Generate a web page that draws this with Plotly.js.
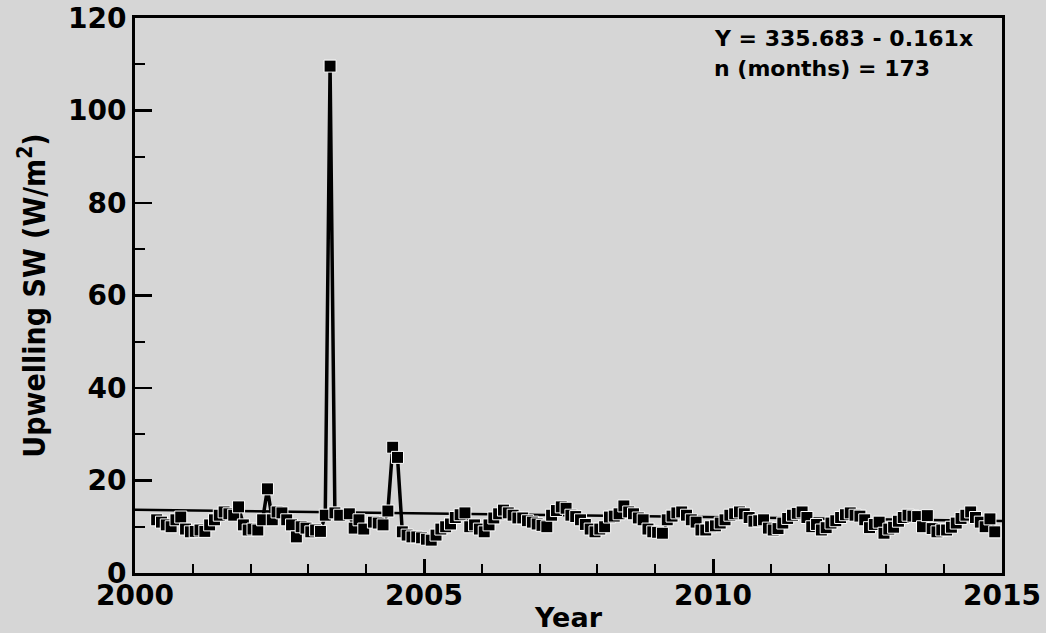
<!DOCTYPE html>
<html>
<head>
<meta charset="utf-8">
<script src="https://cdn.plot.ly/plotly-3.0.1.min.js"></script>
<style>
  html, body { margin: 0; padding: 0; background: #d6d6d6; }
  #chart { width: 1046px; height: 633px; }
</style>
</head>
<body>
<div id="chart"></div>
<script>
// Monthly mean upwelling shortwave flux (W/m^2), one array per year, Jan..Dec.
// null marks a month with no observation.
const sw2000 = [null, null, null, null, 11.5, 11.0, 10.4, 10.0, 11.5, 12.1, 9.5, 8.9];
const sw2001 = [9.0, 9.3, 9.0, 10.4, 11.5, 12.5, 13.2, 12.8, 12.5, 14.3, 10.4, 9.3];
const sw2002 = [9.5, 9.3, 11.5, 18.2, 11.5, 13.2, 13.0, 11.5, 10.4, 7.8, 10.0, 9.7];
const sw2003 = [8.9, 9.3, 9.0, 12.5, 109.6, 13.0, 12.5, null, 12.8, 9.7, 11.5, 9.5];
const sw2004 = [null, 11.0, 10.8, 10.4, 13.4, 27.2, 25.0, 8.9, 8.2, 7.8, 7.8, 7.6];
const sw2005 = [7.3, 7.1, 8.2, 9.5, 10.0, 10.6, 12.0, 12.6, 13.0, 10.0, 10.4, 9.5];
const sw2006 = [8.9, 10.4, 11.9, 12.8, 13.6, 13.0, 12.5, 11.9, 11.9, 11.3, 11.0, 10.6];
const sw2007 = [10.3, 10.0, 12.5, 13.5, 14.3, 14.0, 12.5, 12.2, 11.5, 10.5, 9.5, 8.9];
const sw2008 = [9.5, 10.0, 12.1, 12.3, 12.8, 14.5, 13.2, 12.8, 11.9, 11.5, 9.5, 8.9];
const sw2009 = [8.8, 8.6, 11.5, 12.3, 13.0, 13.2, 12.5, 11.5, 11.0, 9.3, 9.3, 10.0];
const sw2010 = [10.2, 10.8, 11.5, 12.5, 12.8, 13.2, 12.8, 12.0, 11.2, 11.3, 11.5, 9.7];
const sw2011 = [9.3, 9.6, 10.8, 11.8, 12.5, 12.9, 13.2, 12.0, 10.0, 10.5, 9.3, 9.8];
const sw2012 = [10.8, 11.3, 12.0, 12.6, 13.0, 12.5, 12.3, 11.5, 9.8, 10.5, 11.0, 8.6];
const sw2013 = [9.5, 9.9, 11.2, 12.0, 12.5, 12.3, 12.2, 10.0, 12.4, 9.6, 8.9, 9.3];
const sw2014 = [9.3, 9.9, 10.8, 11.8, 12.5, 13.2, 12.0, 11.0, 10.0, 11.7, 8.9, null];

const firstYear = 2000;
const yearSeries = [sw2000, sw2001, sw2002, sw2003, sw2004, sw2005, sw2006, sw2007,
                    sw2008, sw2009, sw2010, sw2011, sw2012, sw2013, sw2014];

// Least-squares fit printed on the chart: Y = a + b * year
const fitIntercept = 335.683;
const fitSlope = -0.161;
const fitSpan = [2000, 2015];

const yTickVals = [0, 20, 40, 60, 80, 100, 120];
const xTickVals = [2000, 2005, 2010, 2015];

// Flatten to mid-month decimal years, skipping missing months
const xs = [], ys = [];
yearSeries.forEach((arr, i) => {
  arr.forEach((v, m) => {
    if (v !== null) {
      xs.push(firstYear + i + (m + 0.5) / 12);
      ys.push(v);
    }
  });
});

const fitY = fitSpan.map(x => fitIntercept + fitSlope * x);

const traces = [
  {
    x: fitSpan, y: fitY, type: 'scatter', mode: 'lines',
    line: { color: '#000', width: 2.5 }, hoverinfo: 'skip'
  },
  {
    x: xs, y: ys, type: 'scatter', mode: 'lines+markers',
    line: { color: '#000', width: 3.5 },
    marker: { symbol: 'square', size: 12, color: '#000', line: { color: '#ffffff', width: 1 } }
  }
];

const tickFont = { family: 'DejaVu Sans', size: 28, color: '#000', weight: 'bold' };

const layout = {
  width: 1046, height: 633,
  paper_bgcolor: '#d6d6d6', plot_bgcolor: '#d6d6d6',
  margin: { l: 135, r: 44, t: 18, b: 60 },
  showlegend: false,
  xaxis: {
    range: [2000, 2015], tickvals: xTickVals, ticktext: xTickVals.map(String),
    showgrid: false, zeroline: false,
    showline: true, linecolor: '#000', linewidth: 3, mirror: true,
    ticks: 'inside', ticklen: 14, tickwidth: 3, tickcolor: '#000',
    ticklabelstandoff: -5,
    minor: { dtick: 1, ticks: 'inside', ticklen: 9, tickwidth: 2, tickcolor: '#000', showgrid: false },
    tickfont: tickFont,
    title: { text: '<b>Year</b>', font: { family: 'DejaVu Sans', size: 27, color: '#000' }, standoff: 0 }
  },
  yaxis: {
    range: [0, 120], tickvals: yTickVals, ticktext: yTickVals.map(String),
    showgrid: false, zeroline: false,
    showline: true, linecolor: '#000', linewidth: 3, mirror: true,
    ticks: 'inside', ticklen: 17, tickwidth: 2.5, tickcolor: '#000',
    minor: { dtick: 10, ticks: 'inside', ticklen: 10, tickwidth: 2, tickcolor: '#000', showgrid: false },
    tickfont: tickFont,
    title: { text: '<b>Upwelling SW (W/m<sup>2</sup>)</b>', font: { family: 'DejaVu Sans Condensed, Liberation Sans', size: 30, color: '#000' }, standoff: 14 }
  },
  annotations: [
    {
      xref: 'paper', yref: 'paper', x: 0.666, y: 0.99, xanchor: 'left', yanchor: 'top',
      align: 'left', showarrow: false,
      text: '<b>Y = 335.683 - 0.161x</b>',
      font: { family: 'DejaVu Sans', size: 22, color: '#000' }
    },
    {
      xref: 'paper', yref: 'paper', x: 0.666, y: 0.936, xanchor: 'left', yanchor: 'top',
      align: 'left', showarrow: false,
      text: '<b>n (months) = 173</b>',
      font: { family: 'DejaVu Sans', size: 22, color: '#000' }
    }
  ]
};

Plotly.newPlot('chart', traces, layout, { displayModeBar: false, staticPlot: true });
</script>
</body>
</html>
